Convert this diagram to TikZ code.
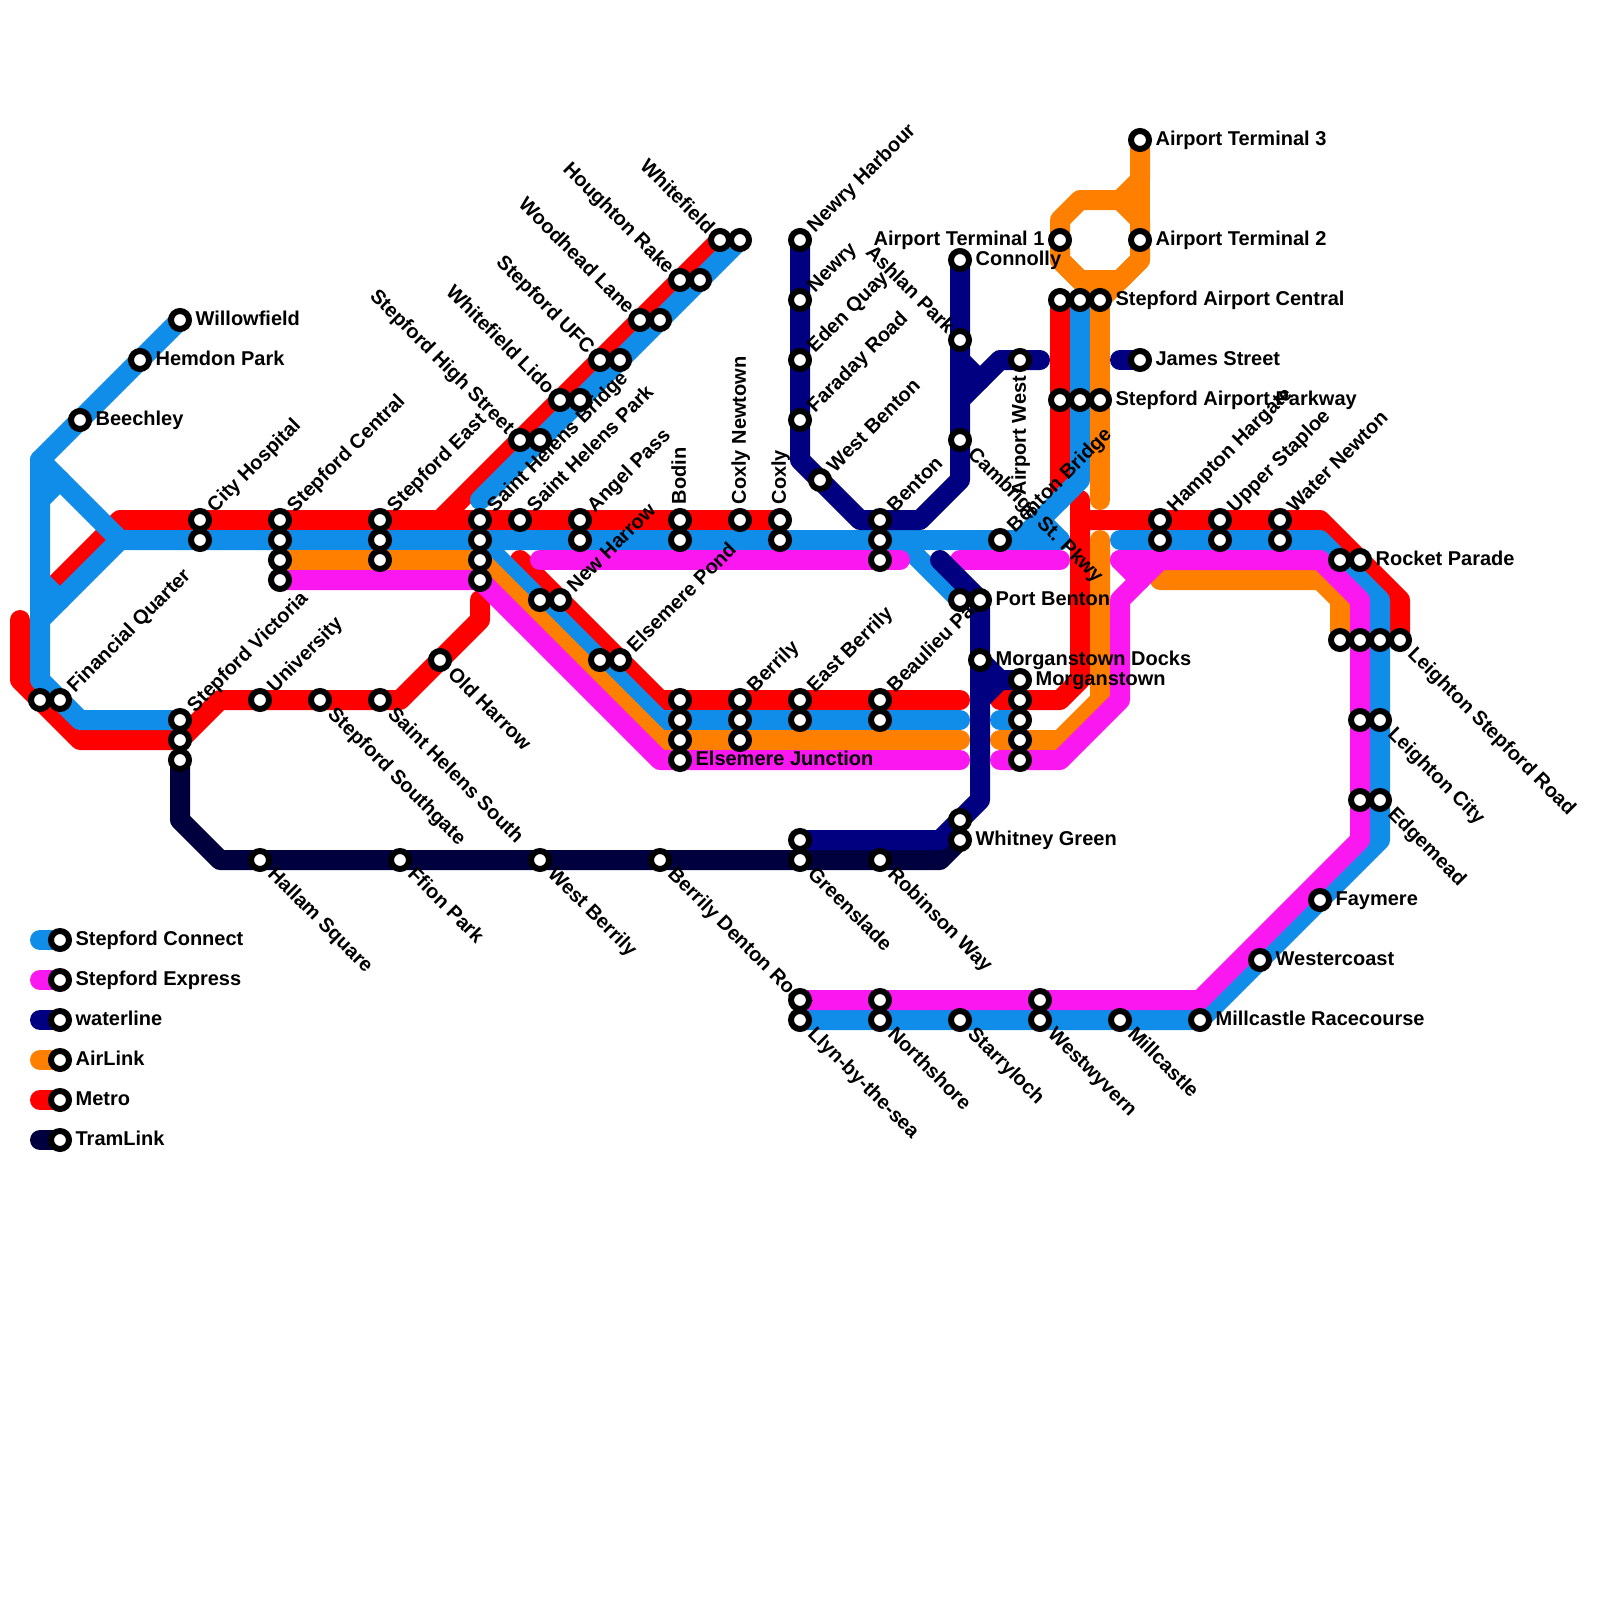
\documentclass[tikz,border=0pt]{standalone}
\usepackage{fontspec}
\setmainfont{Liberation Sans}[BoldFont={Liberation Sans Bold}]
\definecolor{connectblue}{HTML}{0F8DE9}
\definecolor{expresspink}{HTML}{FB17F0}
\definecolor{waternavy}{HTML}{000080}
\definecolor{airorange}{HTML}{FF8000}
\definecolor{metrored}{HTML}{FF0000}
\definecolor{tramdark}{HTML}{00003F}
\pgfdeclarelayer{lines}
\pgfsetlayers{lines,main}
\begin{document}
\begin{tikzpicture}[x=10pt, y=-10pt,
  stn/.style={circle, draw=black, fill=white, line width=3pt, minimum size=9pt, inner sep=0pt},
  route/.style={line width=10pt, line cap=round, line join=round},
  connect/.style={route, connectblue},
  express/.style={route, expresspink},
  water/.style={route, waternavy},
  air/.style={route, airorange},
  metro/.style={route, metrored},
  tram/.style={route, tramdark},
  txt/.style={font=\fontsize{10}{12}\selectfont\bfseries, inner sep=0pt, text=black},
  txtE/.style={txt, anchor=base west, xshift=7.6pt, yshift=-2.9pt},
  txtW/.style={txt, anchor=base east, xshift=-7.6pt, yshift=-2.9pt},
  txtNE/.style={txt, rotate=45, anchor=base west, xshift=7.6pt, yshift=-2.9pt},
  txtSE/.style={txt, rotate=-45, anchor=base west, xshift=7.6pt, yshift=-2.9pt},
  txtNW/.style={txt, rotate=-45, anchor=base east, xshift=-6.4pt, yshift=-2.9pt},
  txtN/.style={txt, rotate=90, anchor=base west, xshift=7.6pt, yshift=-2.9pt},
  txtS/.style={txt, rotate=90, anchor=base east, xshift=-7.6pt, yshift=-2.9pt}]
  \useasboundingbox (0,0) rectangle (80,80);

  \coordinate (cTop) at (2,23);
  \coordinate (cLow) at (2,34);
  \coordinate (cBot) at (4,36);
  \coordinate (cFork) at (6,27);
  \coordinate (cForkIn) at (2,31);
  \coordinate (cStubA) at (2,25);
  \coordinate (cStubAEnd) at (3,24);
  \coordinate (cStubB) at (2,29);
  \coordinate (cStubBEnd) at (3,30);
  \coordinate (cEnd) at (53,27);
  \coordinate (cStubC) at (52,26);
  \coordinate (cElbow) at (33,36);
  \coordinate (cStop) at (48,36);
  \coordinate (cRestart) at (50,36);
  \coordinate (cPortTurn) at (45,27);
  \coordinate (cNorth) at (24,25);
  \coordinate (cAirTurn) at (54,24);
  \coordinate (cAirEnd) at (51,27);
  \coordinate (cEast) at (56,27);
  \coordinate (cEastTurn) at (66,27);
  \coordinate (cEastDown) at (69,30);
  \coordinate (cSouth) at (69,42);

  \coordinate (eStart) at (27,28);
  \coordinate (eStop) at (45,28);
  \coordinate (eMidA) at (48,28);
  \coordinate (eMidB) at (53,28);
  \coordinate (eElbow) at (33,38);
  \coordinate (eLowStop) at (48,38);
  \coordinate (eRestart) at (50,38);
  \coordinate (eBack) at (53,38);
  \coordinate (eRise) at (56,35);
  \coordinate (eRiseTop) at (56,30);
  \coordinate (eJoin) at (58,28);
  \coordinate (eEast) at (56,28);
  \coordinate (eStub) at (57,29);
  \coordinate (eEastTurn) at (66,28);
  \coordinate (eEastDown) at (68,30);
  \coordinate (eSouth) at (68,42);
  \coordinate (eCoast) at (60,50);

  \coordinate (aElbow) at (33,37);
  \coordinate (aStop) at (48,37);
  \coordinate (aRestart) at (50,37);
  \coordinate (aBack) at (53,37);
  \coordinate (aRise) at (55,35);
  \coordinate (aRiseTop) at (55,27);
  \coordinate (aParkEnd) at (55,25);
  \coordinate (aLoopA) at (57,9);
  \coordinate (aLoopB) at (56,10);
  \coordinate (aLoopC) at (54,10);
  \coordinate (aLoopD) at (53,11);
  \coordinate (aLoopE) at (53,13);
  \coordinate (aLoopF) at (54,14);
  \coordinate (aLoopG) at (56,14);
  \coordinate (aLoopH) at (57,13);
  \coordinate (aLoopI) at (57,11);
  \coordinate (aEast) at (58,29);
  \coordinate (aEastTurn) at (66,29);
  \coordinate (aEastDown) at (67,30);

  \coordinate (mFork) at (6,26);
  \coordinate (mForkEnd) at (2,30);
  \coordinate (mNorth) at (22,26);
  \coordinate (mWest) at (1,31);
  \coordinate (mWestDown) at (1,34);
  \coordinate (mBot) at (4,37);
  \coordinate (mRise) at (11,35);
  \coordinate (mHarrow) at (20,35);
  \coordinate (mHarrowTop) at (24,31);
  \coordinate (mHarrowEnd) at (24,30);
  \coordinate (mPond) at (26,28);
  \coordinate (mElbow) at (33,35);
  \coordinate (mStop) at (48,35);
  \coordinate (mRestart) at (50,35);
  \coordinate (mBack) at (53,35);
  \coordinate (mRiseA) at (54,34);
  \coordinate (mRiseB) at (54,25);
  \coordinate (mAirEnd) at (53,25);
  \coordinate (mEast) at (54,26);
  \coordinate (mEastTurn) at (66,26);
  \coordinate (mEastDown) at (70,30);

  \coordinate (tDown) at (9,41);
  \coordinate (tTurn) at (11,43);
  \coordinate (tEnd) at (47,43);

  \coordinate (wTurnA) at (40,23);
  \coordinate (wTurnB) at (43,26);
  \coordinate (wTurnC) at (46,26);
  \coordinate (wTurnD) at (48,24);
  \coordinate (wStubA) at (48,18);
  \coordinate (wStubB) at (49,19);
  \coordinate (wBranch) at (48,20);
  \coordinate (wBranchTop) at (50,18);
  \coordinate (wBranchEnd) at (52,18);
  \coordinate (wJames) at (56,18);
  \coordinate (wPort) at (47,28);
  \coordinate (wDown) at (49,40);
  \coordinate (wLow) at (47,42);
  \coordinate (wMorgan) at (50,34);
  \coordinate (wMorganIn) at (49,35);

  \coordinate (legConnectEnd) at (2,47);
  \coordinate (legExpressEnd) at (2,49);
  \coordinate (legWaterEnd) at (2,51);
  \coordinate (legAirEnd) at (2,53);
  \coordinate (legMetroEnd) at (2,55);
  \coordinate (legTramEnd) at (2,57);

  \node[stn] (willowfield) at (9,16) {}; \node[txtE] (willowfieldT) at (willowfield) {Willowfield};
  \node[stn] (hemdon) at (7,18) {}; \node[txtE] (hemdonT) at (hemdon) {Hemdon Park};
  \node[stn] (beechley) at (4,21) {}; \node[txtE] (beechleyT) at (beechley) {Beechley};
  \node[stn] (hospitalA) at (10,26) {}; \node[txtNE] (hospitalT) at (hospitalA) {City Hospital};
  \node[stn] (hospitalB) at (10,27) {};
  \node[stn] (centralA) at (14,26) {}; \node[txtNE] (centralT) at (centralA) {Stepford Central};
  \node[stn] (centralB) at (14,27) {};
  \node[stn] (centralC) at (14,28) {};
  \node[stn] (centralD) at (14,29) {};
  \node[stn] (eastA) at (19,26) {}; \node[txtNE] (eastT) at (eastA) {Stepford East};
  \node[stn] (eastB) at (19,27) {};
  \node[stn] (eastC) at (19,28) {};
  \node[stn] (financeA) at (2,35) {};
  \node[stn] (financeB) at (3,35) {}; \node[txtNE] (financeT) at (financeB) {Financial Quarter};
  \node[stn] (victoriaA) at (9,36) {}; \node[txtNE] (victoriaT) at (victoriaA) {Stepford Victoria};
  \node[stn] (victoriaB) at (9,37) {};
  \node[stn] (victoriaC) at (9,38) {};
  \node[stn] (university) at (13,35) {}; \node[txtNE] (universityT) at (university) {University};
  \node[stn] (southgate) at (16,35) {}; \node[txtSE] (southgateT) at (southgate) {Stepford Southgate};
  \node[stn] (helensSouth) at (19,35) {}; \node[txtSE] (helensSouthT) at (helensSouth) {Saint Helens South};
  \node[stn] (harrowOld) at (22,33) {}; \node[txtSE] (harrowOldT) at (harrowOld) {Old Harrow};
  \node[stn] (bridgeA) at (24,26) {}; \node[txtNE] (bridgeT) at (bridgeA) {Saint Helens Bridge};
  \node[stn] (bridgeB) at (24,27) {};
  \node[stn] (bridgeC) at (24,28) {};
  \node[stn] (bridgeD) at (24,29) {};
  \node[stn] (helensPark) at (26,26) {}; \node[txtNE] (helensParkT) at (helensPark) {Saint Helens Park};
  \node[stn] (angelA) at (29,26) {}; \node[txtNE] (angelT) at (angelA) {Angel Pass};
  \node[stn] (angelB) at (29,27) {};
  \node[stn] (highA) at (26,22) {}; \node[txtNW] (highT) at (highA) {Stepford High Street};
  \node[stn] (highB) at (27,22) {};
  \node[stn] (lidoA) at (28,20) {}; \node[txtNW] (lidoT) at (lidoA) {Whitefield Lido};
  \node[stn] (lidoB) at (29,20) {};
  \node[stn] (ufcA) at (30,18) {}; \node[txtNW] (ufcT) at (ufcA) {Stepford UFC};
  \node[stn] (ufcB) at (31,18) {};
  \node[stn] (woodheadA) at (32,16) {}; \node[txtNW] (woodheadT) at (woodheadA) {Woodhead Lane};
  \node[stn] (woodheadB) at (33,16) {};
  \node[stn] (houghtonA) at (34,14) {}; \node[txtNW] (houghtonT) at (houghtonA) {Houghton Rake};
  \node[stn] (houghtonB) at (35,14) {};
  \node[stn] (whitefieldA) at (36,12) {}; \node[txtNW] (whitefieldT) at (whitefieldA) {Whitefield};
  \node[stn] (whitefieldB) at (37,12) {};
  \node[stn] (bodinA) at (34,26) {}; \node[txtN] (bodinT) at (bodinA) {Bodin};
  \node[stn] (bodinB) at (34,27) {};
  \node[stn] (coxlyNew) at (37,26) {}; \node[txtN] (coxlyNewT) at (coxlyNew) {Coxly Newtown};
  \node[stn] (coxlyA) at (39,26) {}; \node[txtN] (coxlyT) at (coxlyA) {Coxly};
  \node[stn] (coxlyB) at (39,27) {};
  \node[stn] (harbour) at (40,12) {}; \node[txtNE] (harbourT) at (harbour) {Newry Harbour};
  \node[stn] (newry) at (40,15) {}; \node[txtNE] (newryT) at (newry) {Newry};
  \node[stn] (eden) at (40,18) {}; \node[txtNE] (edenT) at (eden) {Eden Quay};
  \node[stn] (faraday) at (40,21) {}; \node[txtNE] (faradayT) at (faraday) {Faraday Road};
  \node[stn] (westBenton) at (41,24) {}; \node[txtNE] (westBentonT) at (westBenton) {West Benton};
  \node[stn] (bentonA) at (44,26) {}; \node[txtNE] (bentonT) at (bentonA) {Benton};
  \node[stn] (bentonB) at (44,27) {};
  \node[stn] (bentonC) at (44,28) {};
  \node[stn] (newHarrowA) at (27,30) {};
  \node[stn] (newHarrowB) at (28,30) {}; \node[txtNE] (newHarrowT) at (newHarrowB) {New Harrow};
  \node[stn] (pondA) at (30,33) {};
  \node[stn] (pondB) at (31,33) {}; \node[txtNE] (pondT) at (pondB) {Elsemere Pond};
  \node[stn] (junctionA) at (34,35) {};
  \node[stn] (junctionB) at (34,36) {};
  \node[stn] (junctionC) at (34,37) {};
  \node[stn] (junctionD) at (34,38) {}; \node[txtE] (junctionT) at (junctionD) {Elsemere Junction};
  \node[stn] (berrilyA) at (37,35) {}; \node[txtNE] (berrilyT) at (berrilyA) {Berrily};
  \node[stn] (berrilyB) at (37,36) {};
  \node[stn] (berrilyC) at (37,37) {};
  \node[stn] (eastBerrilyA) at (40,35) {}; \node[txtNE] (eastBerrilyT) at (eastBerrilyA) {East Berrily};
  \node[stn] (eastBerrilyB) at (40,36) {};
  \node[stn] (beaulieuA) at (44,35) {}; \node[txtNE] (beaulieuT) at (beaulieuA) {Beaulieu Park};
  \node[stn] (beaulieuB) at (44,36) {};
  \node[stn] (portA) at (48,30) {};
  \node[stn] (portB) at (49,30) {}; \node[txtE] (portT) at (portB) {Port Benton};
  \node[stn] (docks) at (49,33) {}; \node[txtE] (docksT) at (docks) {Morganstown Docks};
  \node[stn] (morganA) at (51,34) {}; \node[txtE] (morganT) at (morganA) {Morganstown};
  \node[stn] (morganB) at (51,35) {};
  \node[stn] (morganC) at (51,36) {};
  \node[stn] (morganD) at (51,37) {};
  \node[stn] (morganE) at (51,38) {};
  \node[stn] (whitneyA) at (48,41) {};
  \node[stn] (whitneyB) at (48,42) {}; \node[txtE] (whitneyT) at (whitneyB) {Whitney Green};
  \node[stn] (connolly) at (48,13) {}; \node[txtE] (connollyT) at (connolly) {Connolly};
  \node[stn] (ashlan) at (48,17) {}; \node[txtNW] (ashlanT) at (ashlan) {Ashlan Park};
  \node[stn] (cambridge) at (48,22) {}; \node[txtSE] (cambridgeT) at (cambridge) {Cambrige St. Pkwy};
  \node[stn] (airportWest) at (51,18) {}; \node[txtS] (airportWestT) at (airportWest) {Airport West};
  \node[stn] (bentonBridge) at (50,27) {}; \node[txtNE] (bentonBridgeT) at (bentonBridge) {Benton Bridge};
  \node[stn] (termOne) at (53,12) {}; \node[txtW] (termOneT) at (termOne) {Airport Terminal 1};
  \node[stn] (termTwo) at (57,12) {}; \node[txtE] (termTwoT) at (termTwo) {Airport Terminal 2};
  \node[stn] (termThree) at (57,7) {}; \node[txtE] (termThreeT) at (termThree) {Airport Terminal 3};
  \node[stn] (airCentralA) at (53,15) {};
  \node[stn] (airCentralB) at (54,15) {};
  \node[stn] (airCentralC) at (55,15) {}; \node[txtE] (airCentralT) at (airCentralC) {Stepford Airport Central};
  \node[stn] (james) at (57,18) {}; \node[txtE] (jamesT) at (james) {James Street};
  \node[stn] (parkwayA) at (53,20) {};
  \node[stn] (parkwayB) at (54,20) {};
  \node[stn] (parkwayC) at (55,20) {}; \node[txtE] (parkwayT) at (parkwayC) {Stepford Airport Parkway};
  \node[stn] (hamptonA) at (58,26) {}; \node[txtNE] (hamptonT) at (hamptonA) {Hampton Hargate};
  \node[stn] (hamptonB) at (58,27) {};
  \node[stn] (staploeA) at (61,26) {}; \node[txtNE] (staploeT) at (staploeA) {Upper Staploe};
  \node[stn] (staploeB) at (61,27) {};
  \node[stn] (waterNewtonA) at (64,26) {}; \node[txtNE] (waterNewtonT) at (waterNewtonA) {Water Newton};
  \node[stn] (waterNewtonB) at (64,27) {};
  \node[stn] (rocketA) at (67,28) {};
  \node[stn] (rocketB) at (68,28) {}; \node[txtE] (rocketT) at (rocketB) {Rocket Parade};
  \node[stn] (roadA) at (67,32) {};
  \node[stn] (roadB) at (68,32) {};
  \node[stn] (roadC) at (69,32) {};
  \node[stn] (roadD) at (70,32) {}; \node[txtSE] (roadT) at (roadD) {Leighton Stepford Road};
  \node[stn] (leightonA) at (68,36) {};
  \node[stn] (leightonB) at (69,36) {}; \node[txtSE] (leightonT) at (leightonB) {Leighton City};
  \node[stn] (edgemeadA) at (68,40) {};
  \node[stn] (edgemeadB) at (69,40) {}; \node[txtSE] (edgemeadT) at (edgemeadB) {Edgemead};
  \node[stn] (faymere) at (66,45) {}; \node[txtE] (faymereT) at (faymere) {Faymere};
  \node[stn] (westercoast) at (63,48) {}; \node[txtE] (westercoastT) at (westercoast) {Westercoast};
  \node[stn] (racecourse) at (60,51) {}; \node[txtE] (racecourseT) at (racecourse) {Millcastle Racecourse};
  \node[stn] (millcastle) at (56,51) {}; \node[txtSE] (millcastleT) at (millcastle) {Millcastle};
  \node[stn] (westwyvernA) at (52,50) {};
  \node[stn] (westwyvernB) at (52,51) {}; \node[txtSE] (westwyvernT) at (westwyvernB) {Westwyvern};
  \node[stn] (starryloch) at (48,51) {}; \node[txtSE] (starrylochT) at (starryloch) {Starryloch};
  \node[stn] (northshoreA) at (44,50) {};
  \node[stn] (northshoreB) at (44,51) {}; \node[txtSE] (northshoreT) at (northshoreB) {Northshore};
  \node[stn] (robinson) at (44,43) {}; \node[txtSE] (robinsonT) at (robinson) {Robinson Way};
  \node[stn] (greensladeA) at (40,42) {};
  \node[stn] (greensladeB) at (40,43) {}; \node[txtSE] (greensladeT) at (greensladeB) {Greenslade};
  \node[stn] (dentonRoad) at (33,43) {}; \node[txtSE] (dentonRoadT) at (dentonRoad) {Berrily Denton Road};
  \node[stn] (westBerrily) at (27,43) {}; \node[txtSE] (westBerrilyT) at (westBerrily) {West Berrily};
  \node[stn] (ffion) at (20,43) {}; \node[txtSE] (ffionT) at (ffion) {Ffion Park};
  \node[stn] (hallam) at (13,43) {}; \node[txtSE] (hallamT) at (hallam) {Hallam Square};
  \node[stn] (llynA) at (40,50) {};
  \node[stn] (llynB) at (40,51) {}; \node[txtSE] (llynT) at (llynB) {Llyn-by-the-sea};

  \node[stn] (legConnect) at (3,47) {}; \node[txtE] (legConnectT) at (legConnect) {Stepford Connect};
  \node[stn] (legExpress) at (3,49) {}; \node[txtE] (legExpressT) at (legExpress) {Stepford Express};
  \node[stn] (legWater) at (3,51) {}; \node[txtE] (legWaterT) at (legWater) {waterline};
  \node[stn] (legAir) at (3,53) {}; \node[txtE] (legAirT) at (legAir) {AirLink};
  \node[stn] (legMetro) at (3,55) {}; \node[txtE] (legMetroT) at (legMetro) {Metro};
  \node[stn] (legTram) at (3,57) {}; \node[txtE] (legTramT) at (legTram) {TramLink};

  \begin{pgfonlayer}{lines}
    \draw[tram] (victoriaC.center) -- (tDown) -- (tTurn) -- (hallam.center) -- (ffion.center) -- (westBerrily.center) -- (dentonRoad.center) -- (greensladeB.center) -- (robinson.center) -- (tEnd) -- (whitneyB.center);
    \draw[tram] (legTramEnd) -- (legTram.center);

    \draw[metro] (mForkEnd) -- (mFork) -- (hospitalA.center) -- (centralA.center) -- (eastA.center) -- (bridgeA.center) -- (helensPark.center) -- (angelA.center) -- (bodinA.center) -- (coxlyNew.center) -- (coxlyA.center);
    \draw[metro] (mNorth) -- (highA.center) -- (lidoA.center) -- (ufcA.center) -- (woodheadA.center) -- (houghtonA.center) -- (whitefieldA.center);
    \draw[metro] (mWest) -- (mWestDown) -- (financeA.center) -- (mBot) -- (victoriaB.center) -- (mRise) -- (university.center) -- (southgate.center) -- (helensSouth.center) -- (mHarrow) -- (harrowOld.center) -- (mHarrowTop) -- (mHarrowEnd);
    \draw[metro] (mPond) -- (newHarrowB.center) -- (pondB.center) -- (mElbow) -- (junctionA.center) -- (berrilyA.center) -- (eastBerrilyA.center) -- (beaulieuA.center) -- (mStop);
    \draw[metro] (mRestart) -- (morganB.center) -- (mBack) -- (mRiseA) -- (mRiseB);
    \draw[metro] (airCentralA.center) -- (parkwayA.center) -- (mAirEnd);
    \draw[metro] (mEast) -- (hamptonA.center) -- (staploeA.center) -- (waterNewtonA.center) -- (mEastTurn) -- (rocketB.center) -- (mEastDown) -- (roadD.center);
    \draw[metro] (legMetroEnd) -- (legMetro.center);

    \draw[connect] (willowfield.center) -- (hemdon.center) -- (beechley.center) -- (cTop) -- (cLow) -- (financeB.center) -- (cBot) -- (victoriaA.center);
    \draw[connect] (cTop) -- (cFork) -- (hospitalB.center) -- (centralB.center) -- (eastB.center) -- (bridgeB.center) -- (angelB.center) -- (bodinB.center) -- (coxlyB.center) -- (bentonB.center) -- (bentonBridge.center) -- (cEnd);
    \draw[connect] (cForkIn) -- (cFork);
    \draw[connect] (cStubA) -- (cStubAEnd);
    \draw[connect] (cStubB) -- (cStubBEnd);
    \draw[connect] (cStubC) -- (cEnd);
    \draw[connect] (bridgeB.center) -- (newHarrowA.center) -- (pondA.center) -- (cElbow) -- (junctionB.center) -- (berrilyB.center) -- (eastBerrilyB.center) -- (beaulieuB.center) -- (cStop);
    \draw[connect] (cRestart) -- (morganC.center);
    \draw[connect] (cPortTurn) -- (portA.center);
    \draw[connect] (cNorth) -- (highB.center) -- (lidoB.center) -- (ufcB.center) -- (woodheadB.center) -- (houghtonB.center) -- (whitefieldB.center);
    \draw[connect] (airCentralB.center) -- (parkwayB.center) -- (cAirTurn) -- (cAirEnd);
    \draw[connect] (cEast) -- (hamptonB.center) -- (staploeB.center) -- (waterNewtonB.center) -- (cEastTurn) -- (rocketA.center) -- (cEastDown) -- (roadC.center) -- (leightonB.center) -- (edgemeadB.center) -- (cSouth) -- (faymere.center) -- (westercoast.center) -- (racecourse.center) -- (millcastle.center) -- (westwyvernB.center) -- (starryloch.center) -- (northshoreB.center) -- (llynB.center);
    \draw[connect] (legConnectEnd) -- (legConnect.center);

    \draw[air] (centralC.center) -- (eastC.center) -- (bridgeC.center) -- (aElbow) -- (junctionC.center) -- (berrilyC.center) -- (aStop);
    \draw[air] (aRestart) -- (morganD.center) -- (aBack) -- (aRise) -- (aRiseTop);
    \draw[air] (aParkEnd) -- (parkwayC.center) -- (airCentralC.center);
    \draw[air] (termThree.center) -- (aLoopA) -- (aLoopB);
    \draw[air] (aLoopA) -- (aLoopI);
    \draw[air] (aLoopB) -- (aLoopC) -- (aLoopD) -- (termOne.center) -- (aLoopE) -- (aLoopF) -- (aLoopG) -- (aLoopH) -- (termTwo.center) -- (aLoopI) -- cycle;
    \draw[air] (aLoopE) -- (airCentralC.center) -- (aLoopH);
    \draw[air] (aEast) -- (aEastTurn) -- (aEastDown) -- (roadA.center);
    \draw[air] (legAirEnd) -- (legAir.center);

    \draw[express] (centralD.center) -- (bridgeD.center) -- (eElbow) -- (junctionD.center) -- (eLowStop);
    \draw[express] (eStart) -- (bentonC.center) -- (eStop);
    \draw[express] (eMidA) -- (eMidB);
    \draw[express] (eRestart) -- (morganE.center) -- (eBack) -- (eRise) -- (eRiseTop) -- (eJoin);
    \draw[express] (eEast) -- (eStub);
    \draw[express] (eEast) -- (eEastTurn) -- (eEastDown) -- (roadB.center) -- (leightonA.center) -- (edgemeadA.center) -- (eSouth) -- (eCoast) -- (westwyvernA.center) -- (northshoreA.center) -- (llynA.center);
    \draw[express] (legExpressEnd) -- (legExpress.center);

    \draw[water] (harbour.center) -- (newry.center) -- (eden.center) -- (faraday.center) -- (wTurnA) -- (westBenton.center) -- (wTurnB) -- (bentonA.center) -- (wTurnC) -- (wTurnD) -- (cambridge.center) -- (ashlan.center) -- (connolly.center);
    \draw[water] (wStubA) -- (wStubB);
    \draw[water] (wBranch) -- (wBranchTop) -- (airportWest.center) -- (wBranchEnd);
    \draw[water] (wJames) -- (james.center);
    \draw[water] (wPort) -- (portB.center) -- (docks.center) -- (wDown) -- (whitneyA.center) -- (wLow) -- (greensladeA.center);
    \draw[water] (docks.center) -- (wMorgan) -- (morganA.center);
    \draw[water] (wMorganIn) -- (wMorgan);
    \draw[water] (legWaterEnd) -- (legWater.center);
  \end{pgfonlayer}
\end{tikzpicture}
\end{document}
